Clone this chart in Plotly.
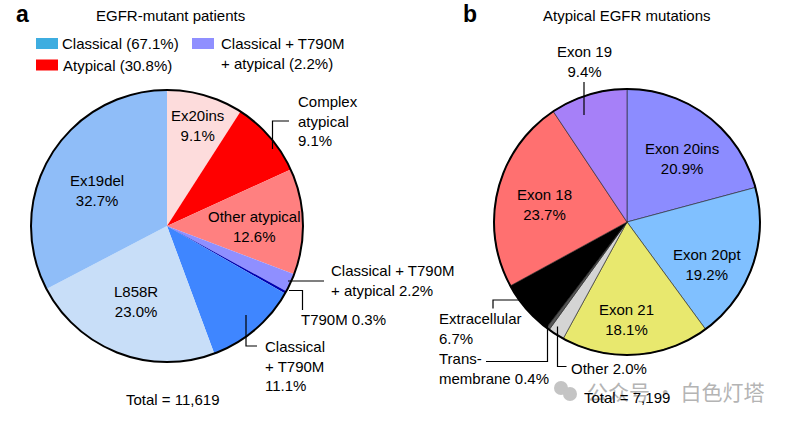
import plotly.graph_objects as go

W, H = 786, 422
FONT = "Liberation Sans, Arial, Helvetica, sans-serif"
FS = 15

# ---------------- data ----------------
left_labels = ["Ex20ins", "Complex atypical", "Other atypical",
               "Classical + T790M + atypical", "T790M", "Classical + T790M",
               "L858R", "Ex19del"]
left_values = [9.1, 9.1, 12.6, 2.2, 0.3, 11.1, 23.0, 32.7]
left_display = ["Ex20ins", "Complex<br>atypical", "Other atypical",
                "Classical + T790M<br>+ atypical", "T790M", "Classical<br>+ T790M",
                "L858R", "Ex19del"]
left_sep = ["<br>", "<br>", "<br>", " ", " ", "<br>", "<br>", "<br>"]
left_colors = ["#FDDCDC", "#FF0000", "#FF8080", "#8F8FFF", "#0000B0",
               "#3F86FF", "#C8DEF8", "#8FBDF8"]
left_total = "11,619"

right_labels = ["Exon 20ins", "Exon 20pt", "Exon 21", "Other", "Transmembrane",
                "Extracellular", "Exon 18", "Exon 19"]
right_values = [20.9, 19.2, 18.1, 2.0, 0.4, 6.7, 23.7, 9.4]
right_display = ["Exon 20ins", "Exon 20pt", "Exon 21", "Other", "Trans-<br>membrane",
                 "Extracellular", "Exon 18", "Exon 19"]
right_sep = ["<br>", "<br>", "<br>", " ", " ", "<br>", "<br>", "<br>"]
right_colors = ["#8C8CFF", "#80C0FF", "#E8E86E", "#D4D4D4", "#555555",
                "#000000", "#FF7070", "#A680F8"]
right_total = "7,199"

legend_names = ["Classical (67.1%)", "Atypical (30.8%)",
                "Classical + T790M<br>+ atypical (2.2%)"]
legend_colors = ["#3EADE0", "#FF0000", "#8F8FFF"]

# ---------------- layout geometry (pixels) ----------------
def px(x):
    return x / W

def py(y):
    return 1 - y / H

L_C, L_R = (167, 226), 136
R_C, R_R = (627, 222), 133

def dom(c, r):
    return dict(x=[px(c[0] - r), px(c[0] + r)], y=[py(c[1] + r), py(c[1] - r)])

fig = go.Figure()

fig.add_trace(go.Pie(values=left_values, labels=left_labels, sort=False,
                     direction="clockwise", rotation=0, textinfo="none",
                     marker=dict(colors=left_colors, line=dict(width=0)),
                     domain=dom(L_C, L_R), showlegend=False, hoverinfo="label+value"))
fig.add_trace(go.Pie(values=[1], labels=["outline"], sort=False, textinfo="none",
                     marker=dict(colors=["rgba(0,0,0,0)"], line=dict(color="black", width=2)),
                     domain=dom(L_C, L_R), showlegend=False, hoverinfo="skip"))

fig.add_trace(go.Pie(values=right_values, labels=right_labels, sort=False,
                     direction="clockwise", rotation=0, textinfo="none",
                     marker=dict(colors=right_colors, line=dict(color="#222222", width=0.6)),
                     domain=dom(R_C, R_R), showlegend=False, hoverinfo="label+value"))
fig.add_trace(go.Pie(values=[1], labels=["outline"], sort=False, textinfo="none",
                     marker=dict(colors=["rgba(0,0,0,0)"], line=dict(color="black", width=2)),
                     domain=dom(R_C, R_R), showlegend=False, hoverinfo="skip"))

annotations = []
shapes = []

def txt(s, x, y, xanchor="center", size=FS, color="black", family=FONT, align=None):
    annotations.append(dict(text=s, x=px(x), y=py(y), xref="paper", yref="paper",
                            xanchor=xanchor, yanchor="middle", showarrow=False,
                            align=align or ("left" if xanchor == "left" else "center"),
                            font=dict(size=size, color=color, family=family)))

def line(points, width=1.2):
    path = "M " + " L ".join(f"{px(x)},{py(y)}" for x, y in points)
    shapes.append(dict(type="path", path=path, xref="paper", yref="paper",
                       line=dict(color="black", width=width)))

# watermark (under the total text)
txt("公众号 · 白色灯塔", 675, 391, size=21, color="#B4B4B4",
    family="Noto Sans CJK SC, sans-serif")
for cx, cy, rr in [(561, 388, 7), (570, 394, 7)]:
    shapes.append(dict(type="circle", xref="paper", yref="paper",
                       x0=px(cx - rr), x1=px(cx + rr), y0=py(cy + rr), y1=py(cy - rr),
                       fillcolor="#C4C4C4", line=dict(width=0)))

# panel letters and titles
txt("<b>a</b>", 22, 14, size=23)
txt("<b>b</b>", 470, 14, size=23)
txt("EGFR-mutant patients", 170, 16)
txt("Atypical EGFR mutations", 627, 16)

# legend
leg_pos = [(36, 38, 60, 44), (36, 59.5, 61, 66), (192, 38, 219, 53)]
for (x0, y0, tx, ty), name, col in zip(leg_pos, legend_names, legend_colors):
    shapes.append(dict(type="rect", xref="paper", yref="paper",
                       x0=px(x0), x1=px(x0 + 22), y0=py(y0 + 11), y1=py(y0),
                       fillcolor=col, line=dict(width=0)))
    txt(name, tx, ty, xanchor="left")

# left pie labels: (x, y, anchor)
left_pos = [(198, 125, "center"), (296, 121, "left"), (254, 226, "center"),
            (329, 280, "left"), (299, 319, "left"), (263, 366, "left"),
            (136, 301, "center"), (97, 191, "center")]
for d, s, v, (x, y, a) in zip(left_display, left_sep, left_values, left_pos):
    txt(f"{d}{s}{v:.1f}%", x, y, xanchor=a)
txt(f"Total = {left_total}", 173, 399)

# right pie labels
right_pos = [(682, 158, "center"), (707, 264, "center"), (626, 319, "center"),
             (569, 368, "left"), (437, 368, "left"), (437, 328, "left"),
             (544, 205, "center"), (584, 61, "center")]
for d, s, v, (x, y, a) in zip(right_display, right_sep, right_values, right_pos):
    txt(f"{d}{s}{v:.1f}%", x, y, xanchor=a)
txt(f"Total = {right_total}", 627, 397)

# leader lines, left
line([(272.5, 149), (272.5, 121), (289, 121)])
line([(288, 281), (324, 281)])
line([(289, 290.5), (302.5, 290.5), (302.5, 310)])
line([(246, 315), (246, 346), (257, 346)])
# leader lines, right
line([(584, 82), (584, 115)])
line([(520, 300), (493, 300), (493, 308.5)])
line([(547.5, 325), (547.5, 361.5), (486, 361.5)])
line([(557.5, 326.5), (557.5, 366.5), (566.5, 366.5)])

fig.update_layout(width=W, height=H, margin=dict(l=0, r=0, t=0, b=0),
                  paper_bgcolor="white", plot_bgcolor="white",
                  annotations=annotations, shapes=shapes,
                  font=dict(family=FONT, size=FS, color="black"))

fig.write_html("out.html", config={"displayModeBar": False},
               post_script="document.body.style.margin='0';document.body.style.overflow='hidden';")
